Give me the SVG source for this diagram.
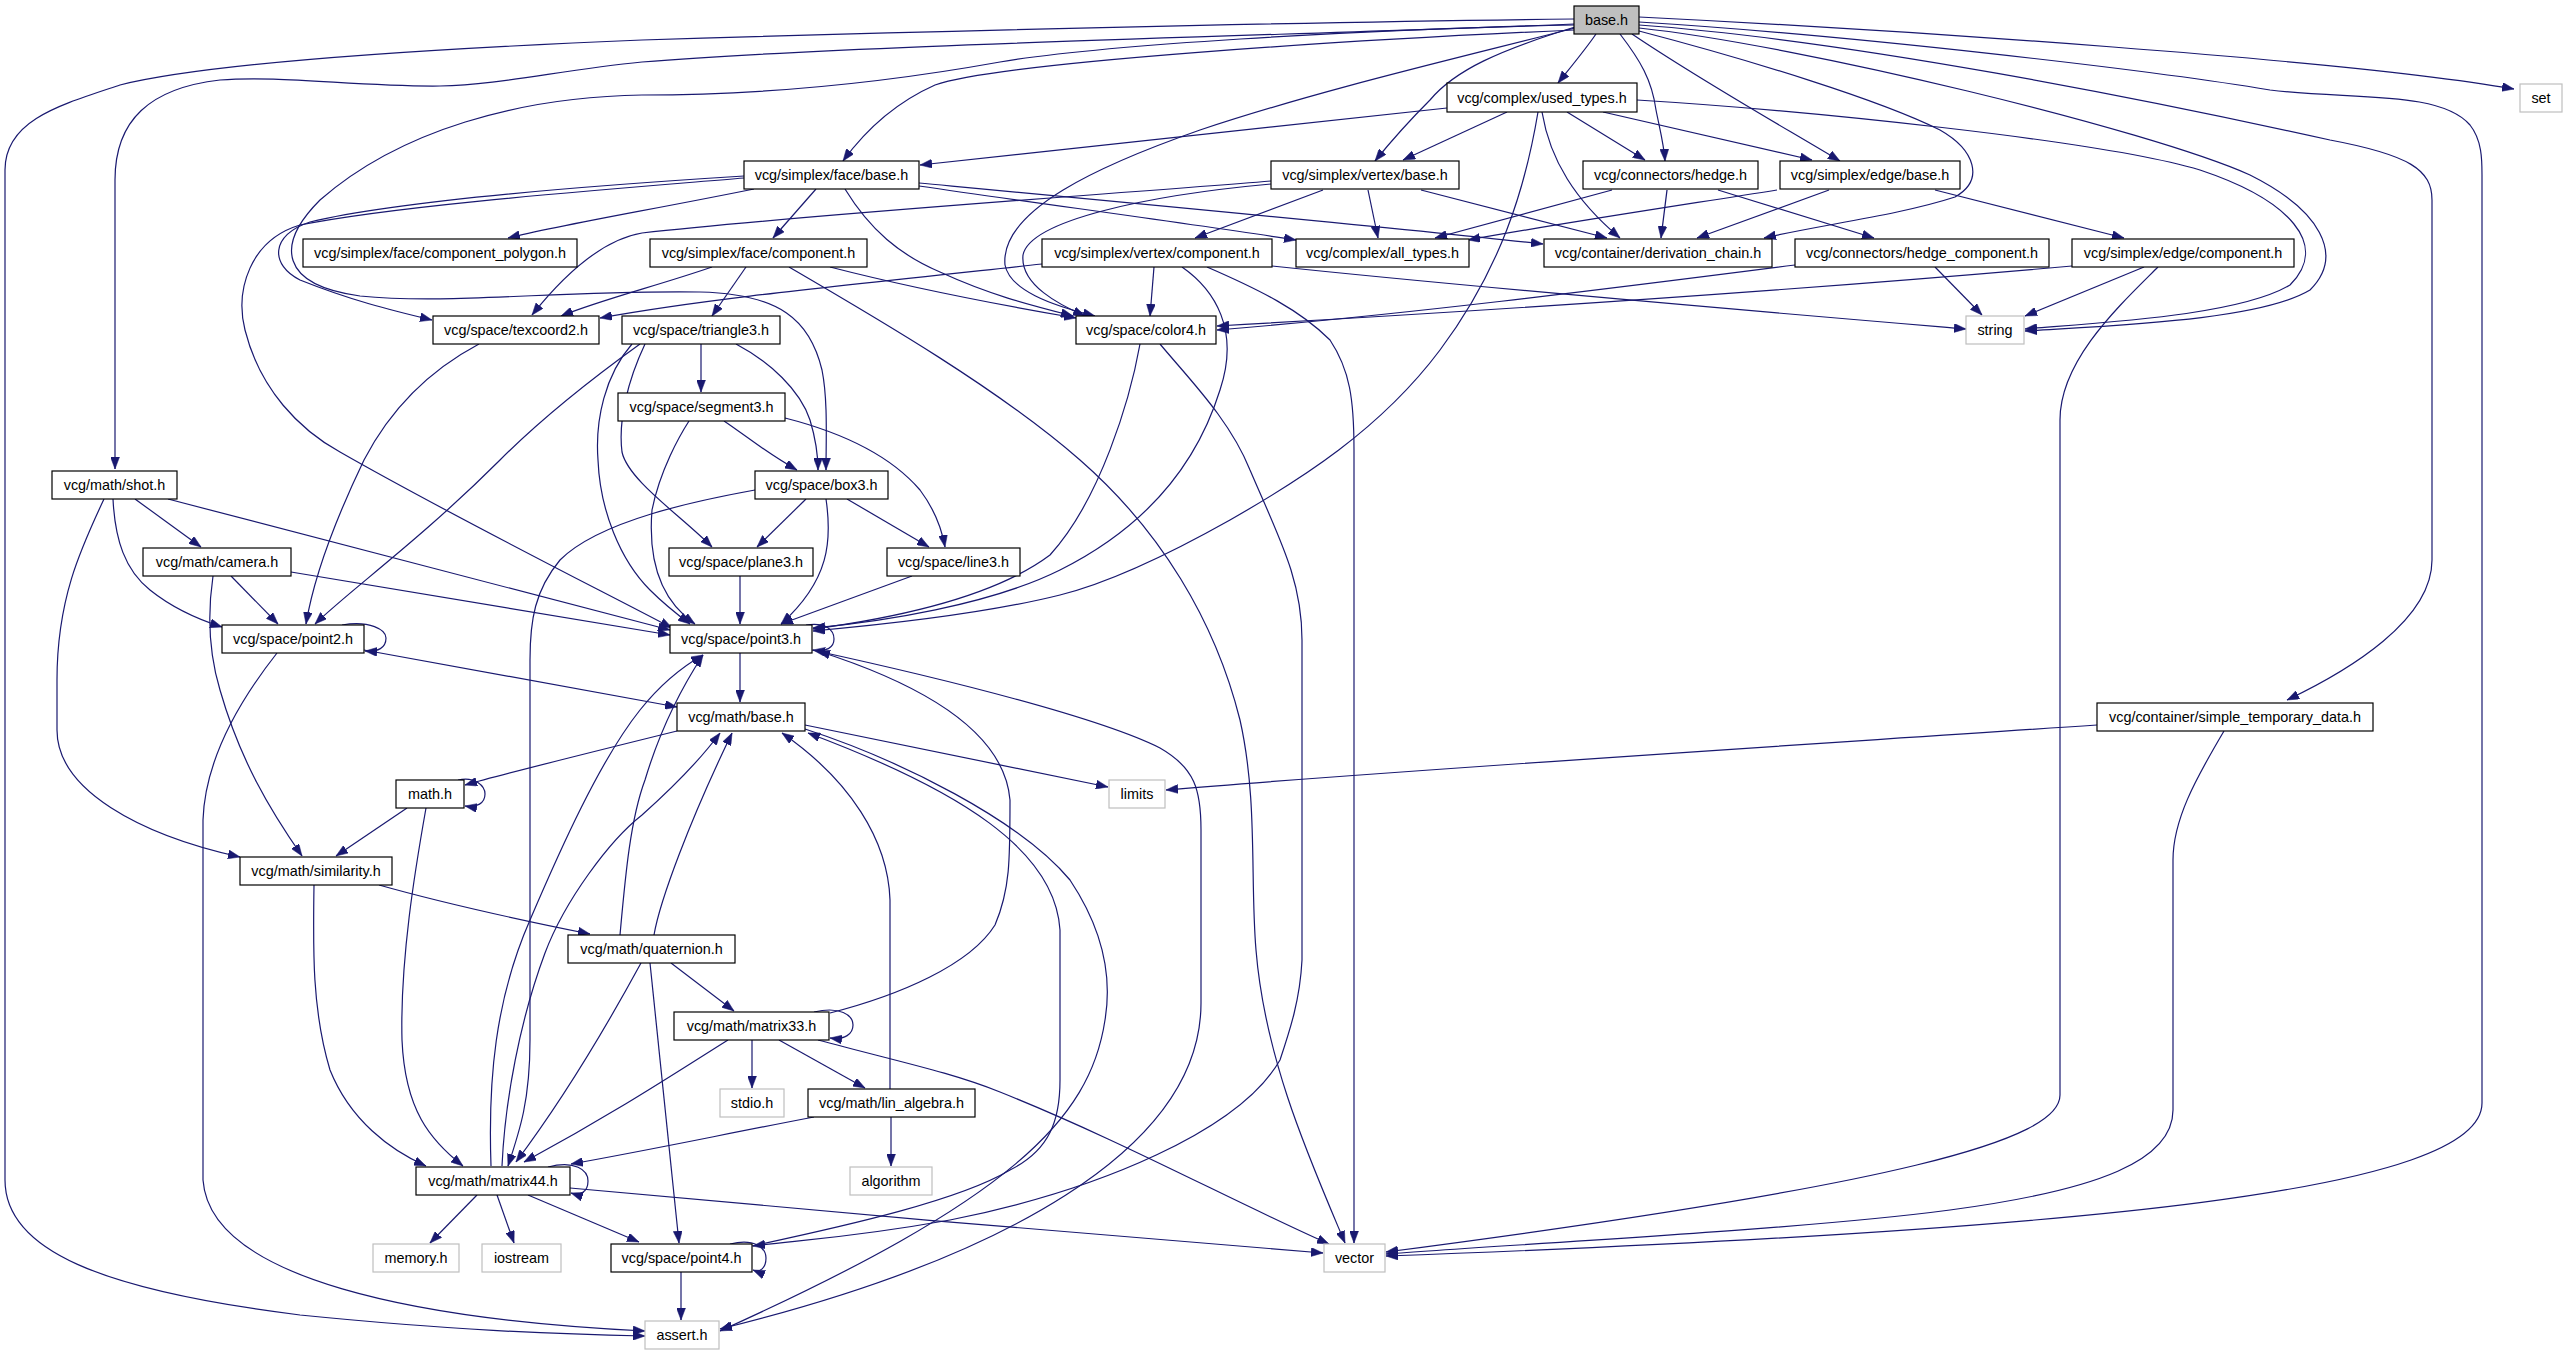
<svg xmlns="http://www.w3.org/2000/svg" width="2565" height="1355" viewBox="0 0 2565 1355">
<style>
.n rect{fill:#ffffff;stroke:#000000;stroke-width:1.2}
.s rect{fill:#ffffff;stroke:#bfbfbf;stroke-width:1.2}
.r rect{fill:#bfbfbf;stroke:#000000;stroke-width:1.2}
text{font-family:"Liberation Sans",Arial,sans-serif;font-size:14.4px;fill:#000000;text-anchor:middle}
#edges path{fill:none;stroke:#191970;stroke-width:1.2;marker-end:url(#ah)}
</style>
<defs>
<marker id="ah" markerUnits="userSpaceOnUse" viewBox="0 0 12 9" refX="12" refY="4.5" markerWidth="12" markerHeight="9" orient="auto">
<path d="M0,0 L12,4.5 L0,9 z" fill="#191970" stroke="#191970" stroke-width="0.5"/>
</marker>
</defs>
<rect x="0" y="0" width="2565" height="1355" fill="#ffffff"/>
<g id="edges">
<path d="M1596,34 C1585,50 1570,68 1558,83"/>
<path d="M1575,27 C1500,50 1455,70 1430,100 C1405,125 1388,145 1375,161"/>
<path d="M1620,34 C1640,60 1652,80 1656,110 C1660,130 1664,145 1665,161"/>
<path d="M1632,34 C1700,80 1780,125 1840,161"/>
<path d="M1574,30 C1350,40 1000,62 935,85 C890,105 862,135 843,161"/>
<path d="M1575,28 C1450,60 1320,90 1200,130 C1100,165 1000,210 1005,265 C1010,290 1050,305 1095,316"/>
<path d="M1639,17 C1900,30 2350,60 2514,89"/>
<path d="M1639,22 C1850,35 2150,70 2270,90 C2350,100 2440,90 2470,125 C2482,140 2482,160 2482,175 L2482,1103 C2482,1190 2100,1230 1386,1256"/>
<path d="M1639,25 C1850,40 2150,100 2330,140 C2410,155 2432,170 2432,200 L2432,560 C2432,620 2350,670 2287,700"/>
<path d="M1639,28 C1800,45 2150,130 2250,175 C2320,210 2345,255 2310,290 C2260,320 2120,325 2025,331"/>
<path d="M1637,100 C1800,110 2100,140 2200,170 C2290,200 2330,245 2290,285 C2240,315 2110,322 2025,329"/>
<path d="M1639,31 C1750,60 1880,100 1940,130 C1975,150 1985,180 1955,197 C1900,215 1820,225 1764,238"/>
<path d="M1574,19 C1300,22 900,32 642,40 C400,50 200,65 120,85 C60,105 5,120 5,170 L5,1180 C5,1250 100,1290 300,1315 C450,1330 550,1334 645,1336"/>
<path d="M1574,24 C1300,35 850,45 642,62 C560,70 500,85 440,86 C360,87 280,75 220,80 C150,88 115,120 115,180 L115,469"/>
<path d="M1574,25 C1350,30 1100,45 1000,62 C900,80 780,95 642,95 C520,97 400,130 320,200 C275,245 280,285 360,296 C450,305 560,290 700,292 C780,294 810,320 822,370 C828,400 826,440 826,470"/>
<path d="M744,176 C600,185 400,200 310,222 C270,235 270,265 300,280 C350,300 390,310 432,320"/>
<path d="M744,178 C600,190 400,205 300,225 C250,240 235,290 245,330 C260,390 300,430 340,452 C450,515 600,590 672,628"/>
<path d="M754,189 C650,210 560,225 508,238"/>
<path d="M816,189 L773,238"/>
<path d="M845,189 C870,230 900,255 940,272 C990,295 1030,305 1073,316"/>
<path d="M919,183 C1100,200 1400,228 1543,244"/>
<path d="M919,186 C1050,205 1200,225 1296,240"/>
<path d="M1507,112 L1403,160"/>
<path d="M1567,112 L1645,160"/>
<path d="M1603,112 L1812,160"/>
<path d="M1542,112 C1550,160 1575,200 1620,238"/>
<path d="M1447,108 L920,165"/>
<path d="M1538,112 C1525,190 1500,270 1440,350 C1380,430 1300,480 1230,520 C1150,565 1100,585 1060,595 C980,615 880,625 813,631"/>
<path d="M1140,344 C1130,400 1100,500 1050,555 C990,600 880,620 813,629"/>
<path d="M1182,267 C1215,290 1240,330 1220,390 C1195,470 1140,530 1060,570 C990,605 880,622 813,628"/>
<path d="M1323,190 L1195,238"/>
<path d="M1368,190 L1378,238"/>
<path d="M1421,190 L1607,238"/>
<path d="M1271,181 C1100,195 800,215 642,233 C600,240 560,280 532,315"/>
<path d="M1271,184 C1150,195 1030,220 1023,255 C1020,285 1060,305 1085,316"/>
<path d="M1612,190 L1435,238"/>
<path d="M1667,190 L1661,238"/>
<path d="M1718,190 L1874,238"/>
<path d="M1777,190 C1650,210 1550,225 1468,240"/>
<path d="M1829,190 L1697,238"/>
<path d="M1935,190 L2124,238"/>
<path d="M1935,267 L1982,315"/>
<path d="M1795,265 C1600,290 1400,315 1217,330"/>
<path d="M2144,267 L2025,316"/>
<path d="M2072,266 C1800,290 1500,310 1217,326"/>
<path d="M2158,267 C2120,305 2060,360 2060,420 L2060,1095 C2060,1140 1900,1185 1386,1252"/>
<path d="M1272,266 C1500,290 1800,315 1966,329"/>
<path d="M1154,267 L1150,316"/>
<path d="M1042,264 C800,290 700,300 600,318"/>
<path d="M1207,267 C1260,290 1300,310 1330,340 C1350,370 1354,400 1354,450 L1354,1243"/>
<path d="M746,267 L712,316"/>
<path d="M712,267 C660,285 600,300 561,316"/>
<path d="M830,267 C900,285 1000,305 1076,318"/>
<path d="M789,267 C880,320 1000,390 1080,460 C1160,530 1215,620 1240,720 C1258,800 1250,880 1256,950 C1265,1060 1310,1160 1345,1243"/>
<path d="M479,344 C430,370 390,410 364,460 C340,510 315,570 306,624"/>
<path d="M701,344 L701,392"/>
<path d="M736,344 C770,362 800,390 810,420 C816,440 818,455 818,470"/>
<path d="M640,344 C590,380 540,420 500,460 C420,540 350,590 315,624"/>
<path d="M632,344 C605,375 595,420 598,460 C600,510 620,560 650,590 C665,605 678,615 690,624"/>
<path d="M645,344 C628,380 618,420 622,452 C628,480 680,515 712,547"/>
<path d="M724,421 C745,435 765,452 797,470"/>
<path d="M785,418 C840,432 890,455 920,490 C935,510 942,530 945,547"/>
<path d="M689,421 C680,435 660,470 652,510 C648,560 660,600 695,624"/>
<path d="M806,499 L757,547"/>
<path d="M826,499 C832,540 830,580 781,624"/>
<path d="M847,499 L929,547"/>
<path d="M755,490 C700,500 600,520 560,560 C535,590 530,620 530,660 L530,1040 C530,1100 520,1130 508,1166"/>
<path d="M740,576 L740,624"/>
<path d="M912,576 L781,624"/>
<path d="M740,653 L740,702"/>
<path d="M806,625 C826,622 834,630 834,639 C834,648 826,652 813,650"/>
<path d="M812,650 C950,680 1100,718 1160,748 C1195,768 1201,790 1201,830 L1201,1003 C1201,1150 1000,1260 720,1329"/>
<path d="M830,1013 C900,995 970,965 995,925 C1010,890 1010,860 1010,800 C1005,740 940,690 818,651"/>
<path d="M805,725 L1108,787"/>
<path d="M677,731 C600,750 500,775 465,785"/>
<path d="M805,729 C900,760 1020,820 1070,880 C1110,940 1110,990 1105,1020 C1090,1120 1010,1200 720,1331"/>
<path d="M752,1246 C850,1225 960,1200 1010,1170 C1050,1150 1060,1120 1060,1080 L1060,930 C1055,850 960,790 808,733"/>
<path d="M1160,344 C1190,380 1230,420 1250,470 C1280,540 1302,580 1302,640 L1302,960 C1300,1000 1290,1030 1280,1060 C1240,1130 1100,1190 950,1220 C850,1238 800,1240 753,1246"/>
<path d="M890,1089 L890,900 C888,840 850,780 782,733"/>
<path d="M891,1117 L891,1166"/>
<path d="M814,1117 C720,1135 650,1150 571,1164"/>
<path d="M752,1040 L752,1088"/>
<path d="M779,1040 L865,1088"/>
<path d="M818,1040 C900,1062 950,1072 1000,1092 C1120,1140 1230,1200 1329,1244"/>
<path d="M814,1012 C840,1006 853,1015 853,1025 C853,1034 845,1040 830,1038"/>
<path d="M728,1040 C680,1070 620,1110 524,1162"/>
<path d="M671,963 L734,1011"/>
<path d="M650,963 L679,1243"/>
<path d="M641,963 C610,1020 570,1090 516,1162"/>
<path d="M620,935 C625,880 630,820 645,780 C660,730 680,690 703,655"/>
<path d="M654,935 C660,900 690,820 732,733"/>
<path d="M491,1166 C488,1080 495,1000 530,920 C560,850 600,760 640,710 C660,685 680,668 703,655"/>
<path d="M502,1166 C505,1100 520,1020 545,953 C565,900 610,840 642,815 C670,790 700,760 720,733"/>
<path d="M477,1195 L430,1243"/>
<path d="M497,1195 L514,1243"/>
<path d="M528,1195 L639,1242"/>
<path d="M570,1188 C800,1210 1100,1235 1323,1253"/>
<path d="M548,1167 C575,1160 588,1170 588,1181 C588,1192 580,1196 571,1193"/>
<path d="M379,885 C450,905 520,920 590,934"/>
<path d="M314,885 C313,950 312,1010 330,1070 C350,1120 390,1150 426,1166"/>
<path d="M407,808 L336,856"/>
<path d="M426,808 C415,870 400,960 402,1040 C405,1110 430,1140 463,1166"/>
<path d="M458,780 C475,776 485,786 485,794 C485,803 477,808 465,806"/>
<path d="M135,499 L201,547"/>
<path d="M113,499 C115,540 125,570 150,590 C175,610 200,620 222,627"/>
<path d="M104,499 C80,550 57,600 57,680 L57,730 C57,790 140,835 240,857"/>
<path d="M168,499 L670,630"/>
<path d="M213,576 C208,610 208,650 220,690 C240,760 270,810 302,856"/>
<path d="M231,576 L278,624"/>
<path d="M291,572 L670,635"/>
<path d="M364,650 L677,707"/>
<path d="M342,625 C370,620 386,630 386,638 C386,648 378,652 365,651"/>
<path d="M277,653 C240,700 205,760 203,820 L203,1180 C210,1280 420,1320 645,1331"/>
<path d="M681,1272 L681,1320"/>
<path d="M730,1244 C755,1238 766,1248 766,1258 C766,1268 760,1273 753,1270"/>
<path d="M2097,725 C1800,745 1400,770 1166,790"/>
<path d="M2224,731 C2195,780 2173,820 2173,860 L2173,1110 C2173,1160 2100,1190 1950,1210 C1800,1230 1500,1245 1386,1254"/>
</g>
<g id="n-base_h" class="r"><rect x="1574" y="6" width="65" height="28"/><text x="1606.5" y="25">base.h</text></g>
<g id="n-used_types" class="n"><rect x="1447" y="83" width="190" height="29"/><text x="1542" y="103">vcg/complex/used_types.h</text></g>
<g id="n-vertex_base" class="n"><rect x="1271" y="161" width="188" height="28"/><text x="1365" y="180">vcg/simplex/vertex/base.h</text></g>
<g id="n-hedge" class="n"><rect x="1583" y="161" width="175" height="28"/><text x="1670.5" y="180">vcg/connectors/hedge.h</text></g>
<g id="n-edge_base" class="n"><rect x="1780" y="161" width="180" height="28"/><text x="1870" y="180">vcg/simplex/edge/base.h</text></g>
<g id="n-face_base" class="n"><rect x="744" y="161" width="175" height="28"/><text x="831.5" y="180">vcg/simplex/face/base.h</text></g>
<g id="n-component_polygon" class="n"><rect x="303" y="239" width="274" height="28"/><text x="440" y="258">vcg/simplex/face/component_polygon.h</text></g>
<g id="n-face_component" class="n"><rect x="650" y="239" width="217" height="28"/><text x="758.5" y="258">vcg/simplex/face/component.h</text></g>
<g id="n-vertex_component" class="n"><rect x="1042" y="239" width="230" height="28"/><text x="1157" y="258">vcg/simplex/vertex/component.h</text></g>
<g id="n-all_types" class="n"><rect x="1296" y="239" width="173" height="28"/><text x="1382.5" y="258">vcg/complex/all_types.h</text></g>
<g id="n-derivation_chain" class="n"><rect x="1544" y="239" width="228" height="28"/><text x="1658" y="258">vcg/container/derivation_chain.h</text></g>
<g id="n-hedge_component" class="n"><rect x="1795" y="239" width="254" height="28"/><text x="1922" y="258">vcg/connectors/hedge_component.h</text></g>
<g id="n-edge_component" class="n"><rect x="2072" y="239" width="222" height="28"/><text x="2183" y="258">vcg/simplex/edge/component.h</text></g>
<g id="n-set" class="s"><rect x="2520" y="84" width="42" height="28"/><text x="2541" y="103">set</text></g>
<g id="n-string" class="s"><rect x="1966" y="316" width="58" height="28"/><text x="1995" y="335">string</text></g>
<g id="n-texcoord2" class="n"><rect x="433" y="316" width="166" height="28"/><text x="516" y="335">vcg/space/texcoord2.h</text></g>
<g id="n-triangle3" class="n"><rect x="622" y="316" width="158" height="28"/><text x="701" y="335">vcg/space/triangle3.h</text></g>
<g id="n-color4" class="n"><rect x="1076" y="316" width="140" height="28"/><text x="1146" y="335">vcg/space/color4.h</text></g>
<g id="n-segment3" class="n"><rect x="618" y="393" width="167" height="28"/><text x="701.5" y="412">vcg/space/segment3.h</text></g>
<g id="n-shot" class="n"><rect x="52" y="471" width="125" height="28"/><text x="114.5" y="490">vcg/math/shot.h</text></g>
<g id="n-box3" class="n"><rect x="755" y="471" width="133" height="28"/><text x="821.5" y="490">vcg/space/box3.h</text></g>
<g id="n-camera" class="n"><rect x="143" y="548" width="148" height="28"/><text x="217" y="567">vcg/math/camera.h</text></g>
<g id="n-plane3" class="n"><rect x="669" y="548" width="144" height="28"/><text x="741" y="567">vcg/space/plane3.h</text></g>
<g id="n-line3" class="n"><rect x="887" y="548" width="133" height="28"/><text x="953.5" y="567">vcg/space/line3.h</text></g>
<g id="n-point2" class="n"><rect x="222" y="625" width="142" height="28"/><text x="293" y="644">vcg/space/point2.h</text></g>
<g id="n-point3" class="n"><rect x="670" y="625" width="142" height="28"/><text x="741" y="644">vcg/space/point3.h</text></g>
<g id="n-math_base" class="n"><rect x="677" y="703" width="128" height="28"/><text x="741" y="722">vcg/math/base.h</text></g>
<g id="n-simple_temporary_data" class="n"><rect x="2097" y="703" width="276" height="28"/><text x="2235" y="722">vcg/container/simple_temporary_data.h</text></g>
<g id="n-math_h" class="n"><rect x="396" y="780" width="68" height="28"/><text x="430" y="799">math.h</text></g>
<g id="n-limits" class="s"><rect x="1109" y="780" width="56" height="28"/><text x="1137" y="799">limits</text></g>
<g id="n-similarity" class="n"><rect x="240" y="857" width="152" height="28"/><text x="316" y="876">vcg/math/similarity.h</text></g>
<g id="n-quaternion" class="n"><rect x="568" y="935" width="167" height="28"/><text x="651.5" y="954">vcg/math/quaternion.h</text></g>
<g id="n-matrix33" class="n"><rect x="674" y="1012" width="155" height="28"/><text x="751.5" y="1031">vcg/math/matrix33.h</text></g>
<g id="n-stdio" class="s"><rect x="720" y="1089" width="64" height="28"/><text x="752" y="1108">stdio.h</text></g>
<g id="n-lin_algebra" class="n"><rect x="808" y="1089" width="167" height="28"/><text x="891.5" y="1108">vcg/math/lin_algebra.h</text></g>
<g id="n-matrix44" class="n"><rect x="416" y="1167" width="154" height="28"/><text x="493" y="1186">vcg/math/matrix44.h</text></g>
<g id="n-algorithm" class="s"><rect x="850" y="1167" width="82" height="28"/><text x="891" y="1186">algorithm</text></g>
<g id="n-memory" class="s"><rect x="373" y="1244" width="86" height="28"/><text x="416" y="1263">memory.h</text></g>
<g id="n-iostream" class="s"><rect x="482" y="1244" width="79" height="28"/><text x="521.5" y="1263">iostream</text></g>
<g id="n-point4" class="n"><rect x="611" y="1244" width="141" height="28"/><text x="681.5" y="1263">vcg/space/point4.h</text></g>
<g id="n-vector" class="s"><rect x="1324" y="1244" width="61" height="28"/><text x="1354.5" y="1263">vector</text></g>
<g id="n-assert" class="s"><rect x="645" y="1321" width="74" height="28"/><text x="682" y="1340">assert.h</text></g>
</svg>
